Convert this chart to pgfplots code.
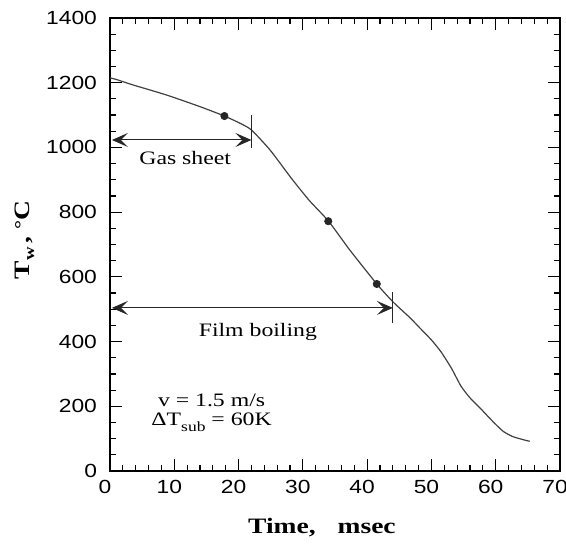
\documentclass[border=0pt]{standalone}
\usepackage{fontspec}
\setmainfont{Liberation Serif}[FakeStretch=1.25]
\setsansfont{Liberation Sans}[FakeStretch=1.2]
\usepackage{pgfplots}
\pgfplotsset{compat=1.18}
\usetikzlibrary{arrows.meta}
\begin{document}
\begin{tikzpicture}
\path[use as bounding box] (-55pt,-37pt) rectangle (228pt,235.5pt);
\begin{axis}[
  scale only axis, width=225pt, height=226.5pt,
  at={(0,0)}, anchor=south west,
  xmin=0, xmax=70, ymin=0, ymax=1400,
  xtick={0,10,...,70}, ytick={0,200,...,1400},
  minor x tick num=4, minor y tick num=3,
  tick align=inside, major tick length=6pt, minor tick length=3pt,
  axis line style={line width=0.9pt},
  every tick/.style={black, line width=0.6pt},
  ticklabel style={font=\sffamily\fontsize{9.5}{10}\selectfont},
  /pgf/number format/assume math mode=true,
  /pgf/number format/1000 sep={},
  xticklabel style={xshift=-2.5pt, yshift=-1pt},
  yticklabel style={xshift=-3pt},
  xlabel={\textbf{Time,\quad msec}},
  xlabel style={font=\fontsize{11}{12}\selectfont, at={(axis description cs:0.471,-0.125)}, anchor=center},
  ylabel={\textbf{T\raisebox{-2.5pt}{\fontsize{7.5}{8}\selectfont w}\,,\ \raisebox{1pt}{\fontsize{9}{9}\selectfont °}C}},
  ylabel style={font=\fontsize{11}{12}\selectfont, at={(axis description cs:-0.19,0.51)}, anchor=center},
  clip=false,
]
\addplot[black!75, line width=0.6pt, smooth, tension=0.35] coordinates {
 (0,1215) (1,1210) (3.6,1193) (8.8,1162) (14,1126) (17.8,1097) (20.2,1075)
 (22,1054) (24.9,992) (28.2,905) (31,836) (34,772) (37.3,683) (41.5,578)
 (44,523) (46.7,473) (48.2,442) (50,405) (51.5,368) (53.1,318) (54.6,262)
 (56,226) (57.5,196) (59.6,152) (61.2,122) (62.7,106) (64.8,94) (65.3,92)
};
\addplot[only marks, mark=*, mark size=1.8pt, black!85] coordinates {
 (17.8,1097) (33.95,772) (41.5,578)
};
\draw[{Stealth[length=8pt,width=7pt,inset=3.5pt]}-{Stealth[length=8pt,width=7pt,inset=3.5pt]}, line width=0.5pt, black!85]
  (axis cs:0.3,1023) -- (axis cs:22,1023);
\draw[line width=0.6pt, black!85] (axis cs:22,998) -- (axis cs:22,1100);
\draw[{Stealth[length=8pt,width=7pt,inset=3.5pt]}-{Stealth[length=8pt,width=7pt,inset=3.5pt]}, line width=0.5pt, black!85]
  (axis cs:0.3,504) -- (axis cs:44,504);
\draw[line width=0.6pt, black!85] (axis cs:44,457) -- (axis cs:44,553);
\node[font=\fontsize{9.5}{11}\selectfont] at (axis cs:11.7,967) {Gas sheet};
\node[font=\fontsize{9.5}{11}\selectfont] at (axis cs:23,430) {Film boiling};
\node[font=\fontsize{9.5}{11}\selectfont] at (axis cs:15.8,219) {v = 1.5 m/s};
\node[font=\fontsize{9.5}{11}\selectfont] at (axis cs:15.8,150) {ΔT\raisebox{-3pt}{\fontsize{7}{8}\selectfont sub} = 60K};
\end{axis}
\end{tikzpicture}
\end{document}
